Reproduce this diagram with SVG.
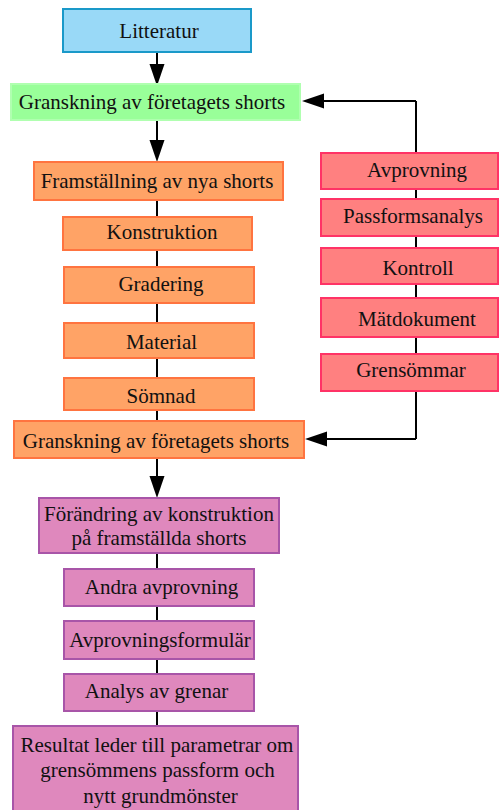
<svg xmlns="http://www.w3.org/2000/svg" width="499" height="810" viewBox="0 0 499 810">
<style>
.blue{fill:#99d9f7;stroke:#1a99c9;stroke-width:2}
.green{fill:#99ff99;stroke:#b0ffb0;stroke-width:2}
.orange{fill:#ffa366;stroke:#ff7440;stroke-width:2}
.red{fill:#ff8080;stroke:#ff3366;stroke-width:2}
.purple{fill:#df88bd;stroke:#a855a8;stroke-width:2}
.ln{stroke:#000;stroke-width:2;fill:none}
</style>
<g id="connectors">
<line class="ln" x1="157" y1="200" x2="157" y2="421"/>
<line class="ln" x1="157" y1="553" x2="157" y2="726"/>
<line class="ln" x1="416" y1="101" x2="416" y2="439"/>
<line class="ln" x1="157" y1="52" x2="157" y2="66"/>
<path d="M149.5,64 L164.5,64 L157,86 Z" fill="#000"/>
<line class="ln" x1="157" y1="120" x2="157" y2="142"/>
<path d="M149.5,140 L164.5,140 L157,162 Z" fill="#000"/>
<line class="ln" x1="157" y1="458" x2="157" y2="478"/>
<path d="M149.5,476 L164.5,476 L157,498 Z" fill="#000"/>
<line class="ln" x1="416" y1="101" x2="322" y2="101"/>
<path d="M324,93.5 L324,108.5 L302,101 Z" fill="#000"/>
<line class="ln" x1="416" y1="439" x2="325" y2="439"/>
<path d="M327,431.5 L327,446.5 L305,439 Z" fill="#000"/>
</g>
<g font-family="Liberation Serif, Times New Roman, serif" font-size="21" fill="#111" text-anchor="middle">
<g id="n1"><rect class="blue" x="63" y="9" width="188" height="43"/><text x="159" y="38">Litteratur</text></g>
<g id="n2"><rect class="green" x="11" y="84" width="289" height="36"/><text x="152" y="109">Granskning av företagets shorts</text></g>
<g id="n3"><rect class="orange" x="34" y="162" width="249" height="38"/><text x="157" y="188">Framställning av nya shorts</text></g>
<g id="n4"><rect class="orange" x="63" y="217" width="189" height="33"/><text x="162" y="239">Konstruktion</text></g>
<g id="n5"><rect class="orange" x="64" y="267" width="190" height="36"/><text x="161" y="291">Gradering</text></g>
<g id="n6"><rect class="orange" x="64" y="323" width="190" height="35"/><text x="161.5" y="349">Material</text></g>
<g id="n7"><rect class="orange" x="64" y="378" width="190" height="32"/><text x="161" y="403">Sömnad</text></g>
<g id="n8"><rect class="orange" x="14" y="421" width="290" height="37"/><text x="156" y="448">Granskning av företagets shorts</text></g>
<g id="n9"><rect class="purple" x="39" y="498" width="240" height="55"/><text x="159" y="521">Förändring av konstruktion</text><text x="159" y="545">på framställda shorts</text></g>
<g id="n10"><rect class="purple" x="64" y="569" width="190" height="37"/><text x="161.5" y="594">Andra avprovning</text></g>
<g id="n11"><rect class="purple" x="64" y="621" width="190" height="38"/><text x="160" y="647">Avprovningsformulär</text></g>
<g id="n12"><rect class="purple" x="64" y="674" width="190" height="37"/><text x="156.5" y="698">Analys av grenar</text></g>
<g id="n13"><rect class="purple" x="13" y="726" width="285" height="90"/><text x="157" y="752">Resultat leder till parametrar om</text><text x="157.5" y="777">grensömmens passform och</text><text x="160.5" y="803">nytt grundmönster</text></g>
<g id="n14"><rect class="red" x="321" y="153" width="177" height="36"/><text x="417" y="177">Avprovning</text></g>
<g id="n15"><rect class="red" x="321" y="199" width="177" height="37"/><text x="413" y="223">Passformsanalys</text></g>
<g id="n16"><rect class="red" x="321" y="248" width="177" height="36"/><text x="418" y="275">Kontroll</text></g>
<g id="n17"><rect class="red" x="321" y="298" width="177" height="39"/><text x="417" y="326">Mätdokument</text></g>
<g id="n18"><rect class="red" x="321" y="354" width="177" height="37"/><text x="411" y="377">Grensömmar</text></g>
</g>
</svg>
